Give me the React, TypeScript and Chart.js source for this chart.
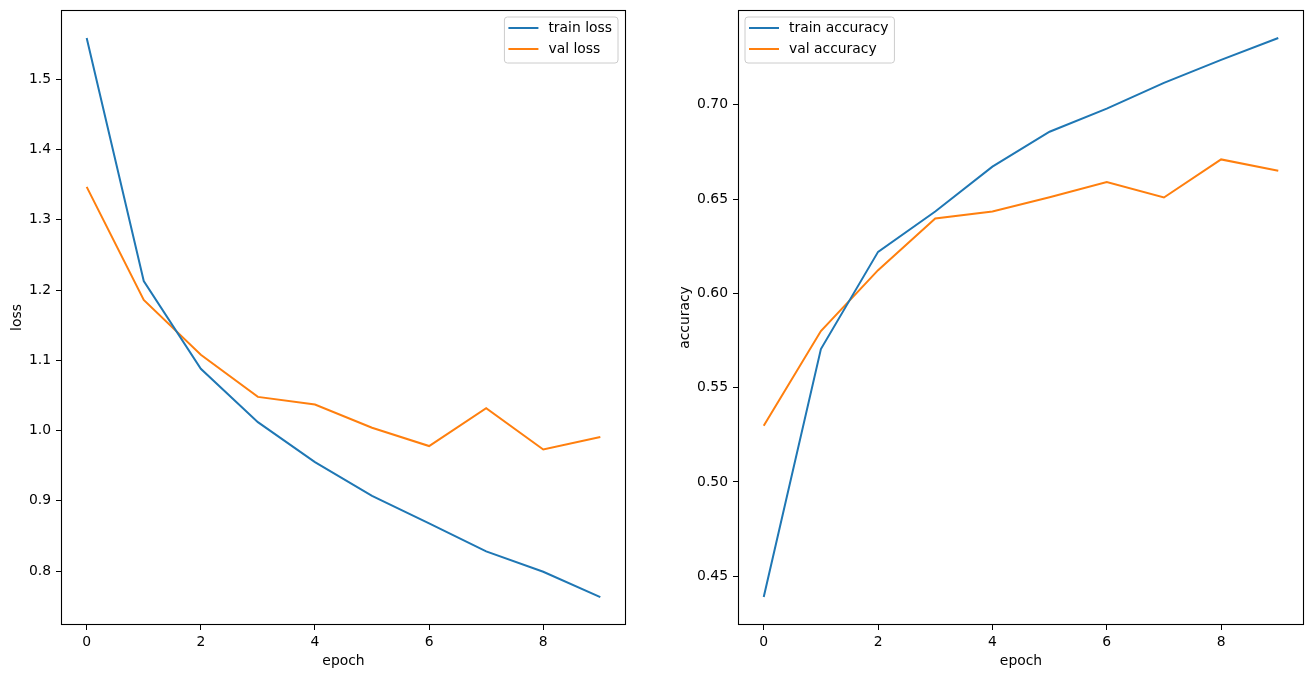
import React, { useEffect, useRef } from "react";
import { Chart, registerables } from "chart.js";
Chart.register(...registerables);

const epochs = [0, 1, 2, 3, 4, 5, 6, 7, 8, 9];
const trainLoss = [1.559, 1.213, 1.088, 1.012, 0.955, 0.907, 0.868, 0.828, 0.799, 0.763];
const valLoss = [1.347, 1.186, 1.108, 1.048, 1.037, 1.004, 0.978, 1.032, 0.973, 0.991];
const trainAcc = [0.439, 0.5705, 0.622, 0.6434, 0.6672, 0.6857, 0.6979, 0.7116, 0.7238, 0.7354];
const valAcc = [0.5298, 0.58, 0.6123, 0.6397, 0.6434, 0.651, 0.659, 0.6508, 0.671, 0.665];
const xTicks = [0, 2, 4, 6, 8];
const lossTicks = [0.8, 0.9, 1.0, 1.1, 1.2, 1.3, 1.4, 1.5];
const accTicks = [0.45, 0.5, 0.55, 0.6, 0.65, 0.7];

const FONT = "'DejaVu Sans', sans-serif";
const FS = 13.9;
const BLUE = "#1f77b4";
const ORANGE = "#ff7f0e";

function range(vals: number[]) {
  const mn = Math.min(...vals);
  const mx = Math.max(...vals);
  const m = (mx - mn) * 0.05;
  return [mn - m, mx + m];
}

function framePlugin() {
  return {
    id: "frame",
    afterDraw(chart: any) {
      const { ctx, chartArea } = chart;
      ctx.save();
      ctx.strokeStyle = "#000";
      ctx.lineWidth = 1.1;
      ctx.strokeRect(
        Math.round(chartArea.left) + 0.5,
        Math.round(chartArea.top) + 0.5,
        Math.round(chartArea.right - chartArea.left) - 1,
        Math.round(chartArea.bottom - chartArea.top) - 1
      );
      ctx.restore();
    },
  };
}

function legendPlugin(side: "left" | "right") {
  return {
    id: "mplLegend",
    afterDraw(chart: any) {
      const { ctx, chartArea } = chart;
      const ds = chart.data.datasets;
      ctx.save();
      ctx.font = `${FS}px ${FONT}`;
      const tw = Math.max(...ds.map((d: any) => ctx.measureText(d.label).width));
      const w = 4 + 30 + 10 + tw + 6;
      const h = 46;
      const x = side === "right" ? chartArea.right - 8 - w : chartArea.left + 7;
      const y = chartArea.top + 7;
      ctx.beginPath();
      const r = 3;
      ctx.moveTo(x + r, y);
      ctx.lineTo(x + w - r, y);
      ctx.arcTo(x + w, y, x + w, y + r, r);
      ctx.lineTo(x + w, y + h - r);
      ctx.arcTo(x + w, y + h, x + w - r, y + h, r);
      ctx.lineTo(x + r, y + h);
      ctx.arcTo(x, y + h, x, y + h - r, r);
      ctx.lineTo(x, y + r);
      ctx.arcTo(x, y, x + r, y, r);
      ctx.closePath();
      ctx.fillStyle = "rgba(255,255,255,0.8)";
      ctx.fill();
      ctx.strokeStyle = "#cccccc";
      ctx.lineWidth = 1;
      ctx.stroke();
      ds.forEach((d: any, i: number) => {
        const ly = y + 11 + i * 21;
        ctx.beginPath();
        ctx.strokeStyle = d.borderColor;
        ctx.lineWidth = 2;
        ctx.moveTo(x + 4, ly);
        ctx.lineTo(x + 34, ly);
        ctx.stroke();
        ctx.fillStyle = "#000";
        ctx.textBaseline = "middle";
        ctx.textAlign = "left";
        ctx.fillText(d.label, x + 44, ly);
      });
      ctx.restore();
    },
  };
}

function makeConfig(opts: {
  train: number[];
  val: number[];
  trainLabel: string;
  valLabel: string;
  yTicks: number[];
  yTitle: string;
  decimals: number;
  yWidth: number;
  yTitlePad: number;
  padRight: number;
  legendSide: "left" | "right";
}) {
  const [ymin, ymax] = range([...opts.train, ...opts.val]);
  const [xmin, xmax] = range(epochs);
  const font = { family: FONT, size: FS };
  return {
    type: "line",
    data: {
      datasets: [
        {
          label: opts.trainLabel,
          data: epochs.map((e, i) => ({ x: e, y: opts.train[i] })),
          borderColor: BLUE,
          backgroundColor: BLUE,
          borderWidth: 2,
          pointRadius: 0,
          tension: 0,
          fill: false,
        },
        {
          label: opts.valLabel,
          data: epochs.map((e, i) => ({ x: e, y: opts.val[i] })),
          borderColor: ORANGE,
          backgroundColor: ORANGE,
          borderWidth: 2,
          pointRadius: 0,
          tension: 0,
          fill: false,
        },
      ],
    },
    options: {
      animation: false,
      responsive: true,
      maintainAspectRatio: false,
      layout: { padding: { top: 10, right: opts.padRight, left: 0, bottom: 0 } },
      plugins: { legend: { display: false }, tooltip: { enabled: false } },
      scales: {
        x: {
          type: "linear",
          min: xmin,
          max: xmax,
          afterBuildTicks: (s: any) => {
            s.ticks = xTicks.map((v) => ({ value: v }));
          },
          afterFit: (s: any) => {
            s.height = 54;
            s.paddingLeft = 0;
            s.paddingRight = 0;
            s.paddingTop = 0;
            s.paddingBottom = 0;
          },
          ticks: {
            color: "#000",
            font,
            padding: 4,
            maxRotation: 0,
            callback: (v: any) => String(v),
          },
          grid: {
            display: true,
            drawOnChartArea: false,
            drawTicks: true,
            tickLength: 5,
            color: "#000",
            lineWidth: 1,
          },
          border: { display: false },
          title: {
            display: true,
            text: "epoch",
            color: "#000",
            font,
            padding: { top: 0, bottom: 9.7 },
          },
        },
        y: {
          type: "linear",
          min: ymin,
          max: ymax,
          afterBuildTicks: (s: any) => {
            s.ticks = opts.yTicks.map((v) => ({ value: v }));
          },
          afterFit: (s: any) => {
            s.width = opts.yWidth;
            s.paddingLeft = 0;
            s.paddingRight = 0;
            s.paddingTop = 0;
            s.paddingBottom = 0;
          },
          ticks: {
            color: "#000",
            font,
            padding: 5,
            callback: (v: any) => Number(v).toFixed(opts.decimals),
          },
          grid: {
            display: true,
            drawOnChartArea: false,
            drawTicks: true,
            tickLength: 5,
            color: "#000",
            lineWidth: 1,
          },
          border: { display: false },
          title: {
            display: true,
            text: opts.yTitle,
            color: "#000",
            font,
            padding: { top: opts.yTitlePad, bottom: 0 },
          },
        },
      },
    },
    plugins: [framePlugin(), legendPlugin(opts.legendSide)],
  };
}

function ChartBox(props: { cfg: any; left: number; width: number }) {
  const ref = useRef<HTMLCanvasElement | null>(null);
  useEffect(() => {
    if (!ref.current) return;
    const chart = new Chart(ref.current, props.cfg);
    return () => chart.destroy();
  }, []);
  return (
    <div
      style={{
        position: "absolute",
        left: props.left,
        top: 0,
        width: props.width,
        height: 679,
      }}
    >
      <canvas ref={ref} />
    </div>
  );
}

export default function App() {
  const lossCfg = makeConfig({
    train: trainLoss,
    val: valLoss,
    trainLabel: "train loss",
    valLabel: "val loss",
    yTicks: lossTicks,
    yTitle: "loss",
    decimals: 1,
    yWidth: 61,
    yTitlePad: 8.7,
    padRight: 29,
    legendSide: "right",
  });
  const accCfg = makeConfig({
    train: trainAcc,
    val: valAcc,
    trainLabel: "train accuracy",
    valLabel: "val accuracy",
    yTicks: accTicks,
    yTitle: "accuracy",
    decimals: 2,
    yWidth: 83,
    yTitlePad: 21.7,
    padRight: 7,
    legendSide: "left",
  });
  return (
    <div
      style={{
        position: "absolute",
        left: 0,
        top: 0,
        width: 1311,
        height: 679,
        background: "#fff",
      }}
    >
      <ChartBox cfg={lossCfg} left={0} width={655} />
      <ChartBox cfg={accCfg} left={655} width={656} />
    </div>
  );
}
